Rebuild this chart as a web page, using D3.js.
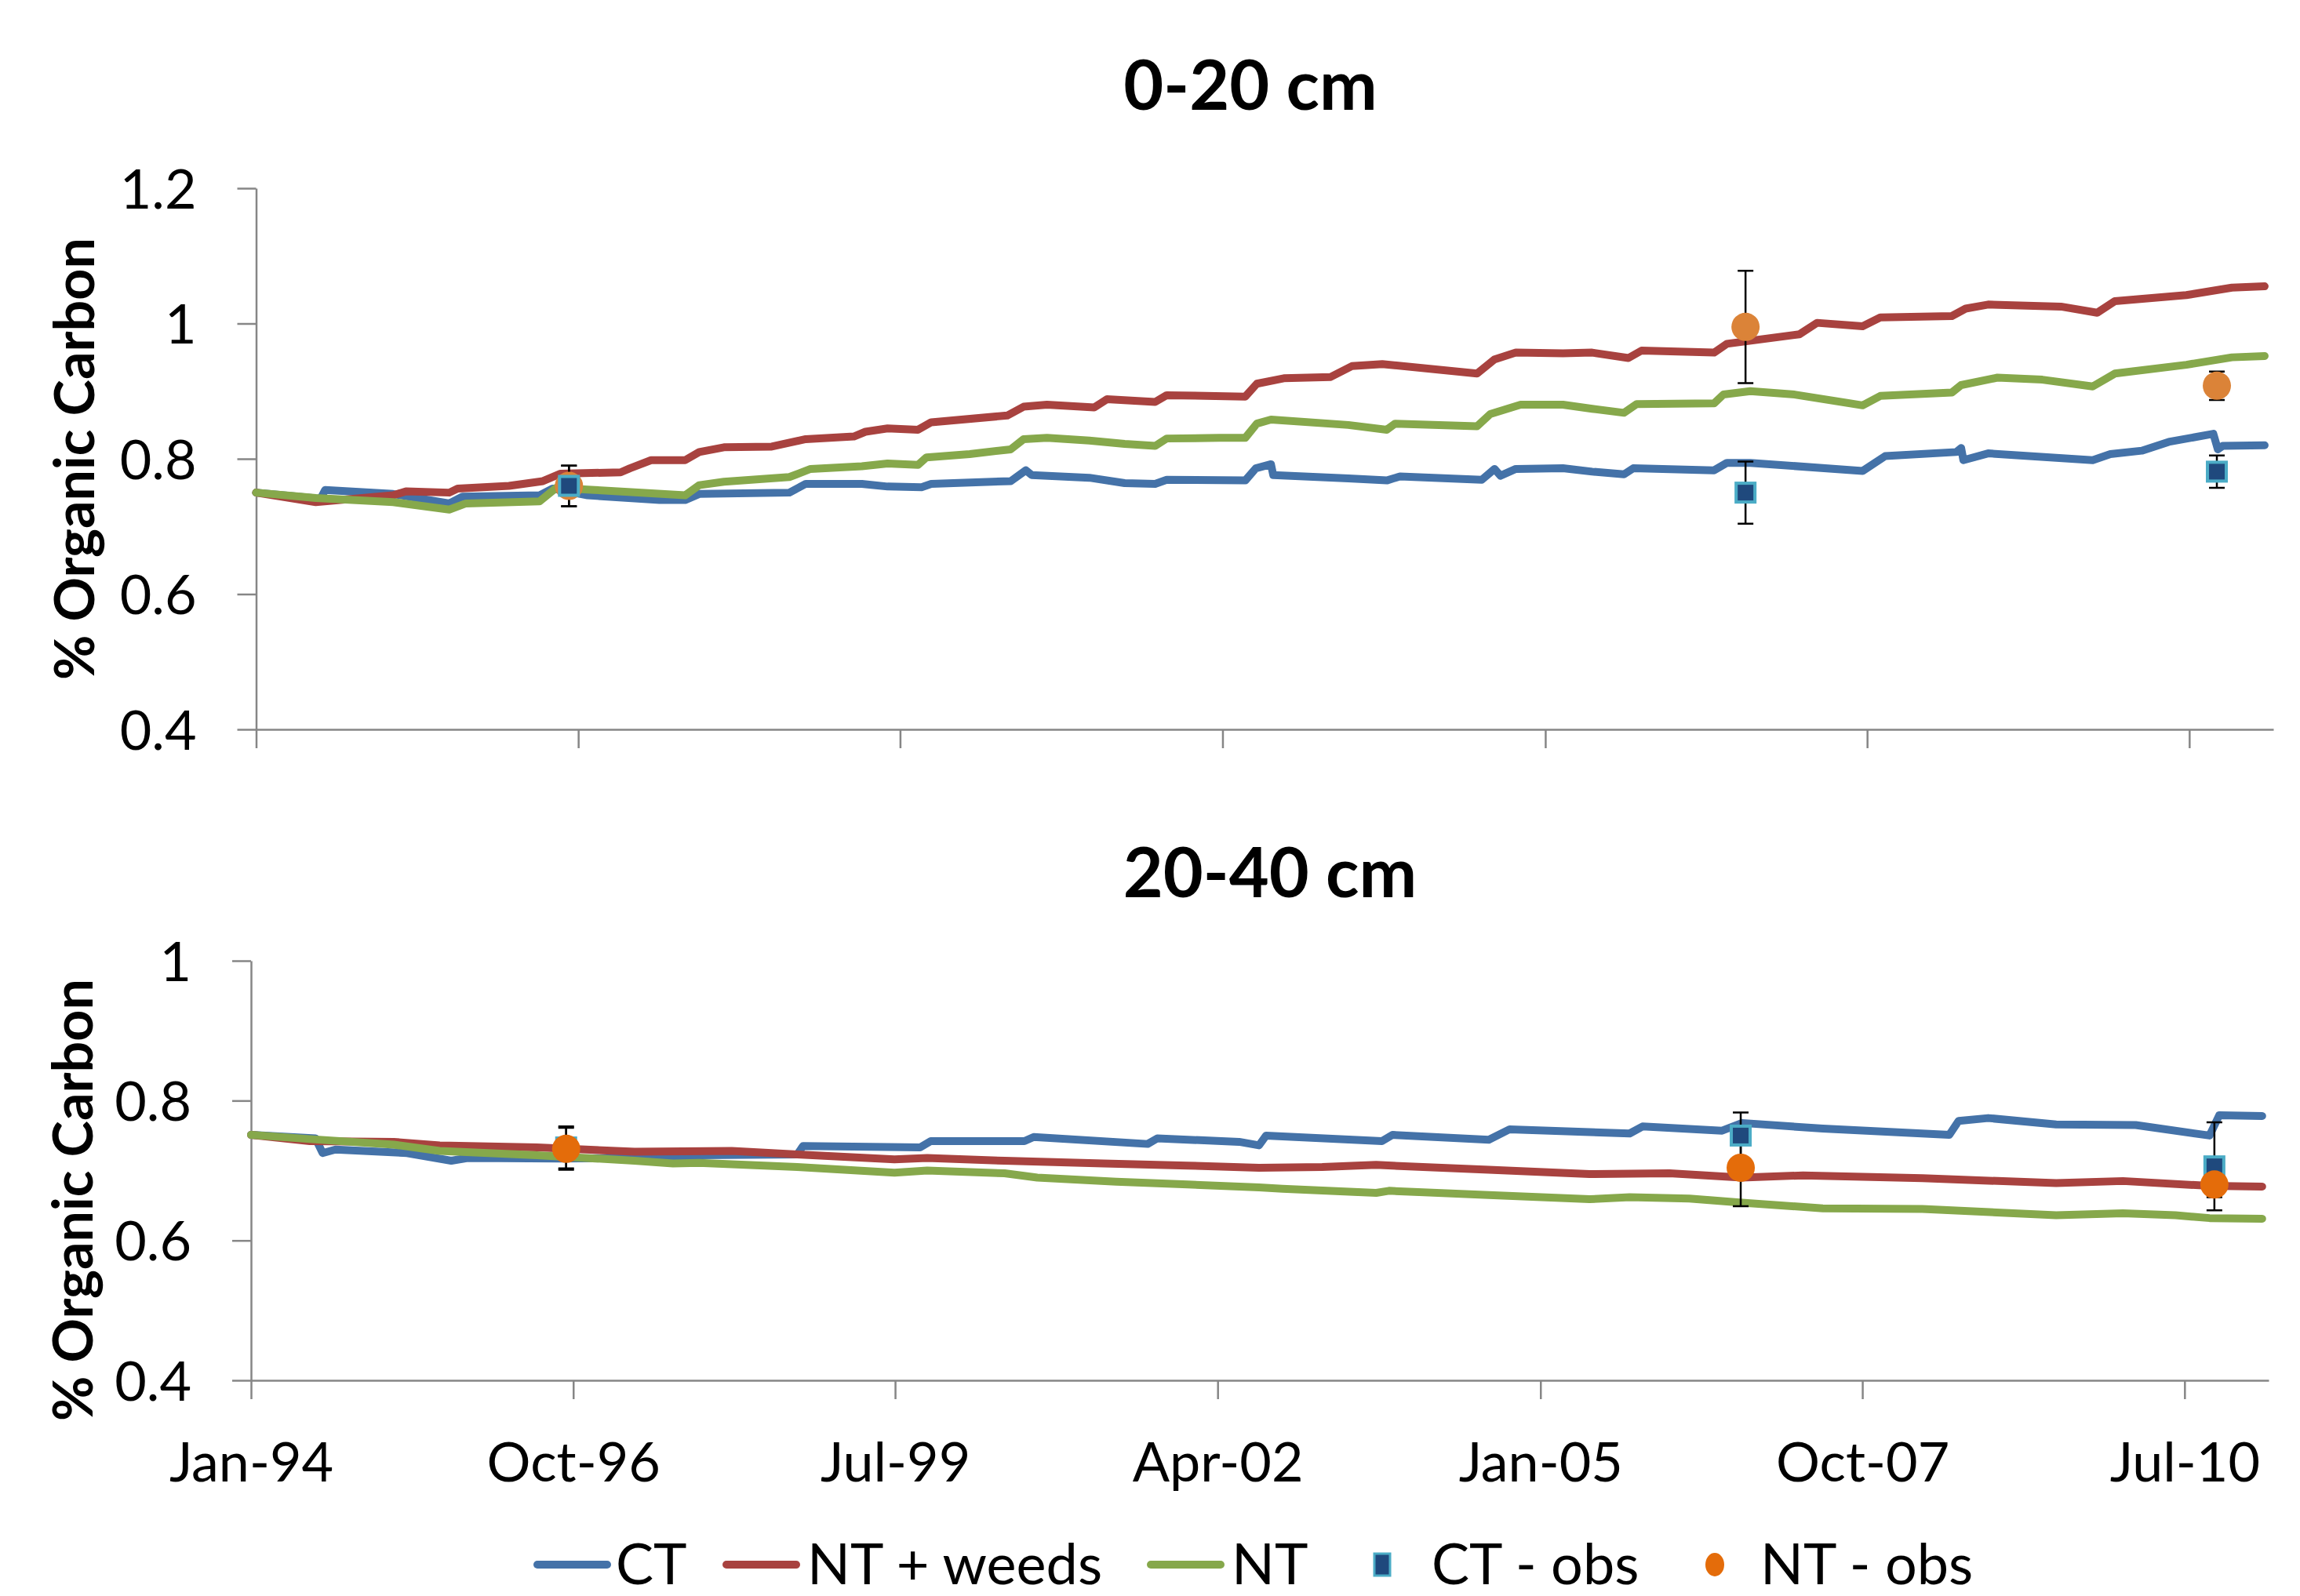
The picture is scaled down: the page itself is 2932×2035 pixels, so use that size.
<!DOCTYPE html>
<html>
<head>
<meta charset="utf-8">
<script src="https://cdn.jsdelivr.net/npm/d3@7"></script>
<style>
  html, body { margin: 0; padding: 0; background: #fff; }
  svg { display: block; font-family: Lato, "Open Sans", sans-serif; }
</style>
</head>
<body>
<svg id="chart" width="2932" height="2035"></svg>
<script>
// ---- data (decimal year, % organic carbon) ----
const xTickLabels = ["Jan-94", "Oct-96", "Jul-99", "Apr-02", "Jan-05", "Oct-07", "Jul-10"];
const yTicksTop = [0.4, 0.6, 0.8, 1.0, 1.2];
const yTicksBottom = [0.4, 0.6, 0.8, 1.0];
const seriesNames = ["CT", "NT + weeds", "NT", "CT - obs", "NT - obs"];

// 0-20 cm
const ctTop = [
  [1994.00, 0.750], [1994.55, 0.741], [1994.59, 0.754], [1995.17, 0.748], [1995.65, 0.734],
  [1995.76, 0.744], [1996.42, 0.746], [1996.53, 0.756], [1996.83, 0.746], [1997.44, 0.739],
  [1997.66, 0.739], [1997.78, 0.748], [1998.55, 0.750], [1998.69, 0.763], [1999.17, 0.763],
  [1999.39, 0.759], [1999.68, 0.758], [1999.76, 0.763], [2000.44, 0.767], [2000.57, 0.783],
  [2000.62, 0.776], [2001.11, 0.772], [2001.41, 0.764], [2001.67, 0.763], [2001.77, 0.769],
  [2002.44, 0.768], [2002.53, 0.786], [2002.66, 0.792], [2002.68, 0.776], [2003.32, 0.771],
  [2003.65, 0.768], [2003.76, 0.774], [2004.46, 0.769], [2004.57, 0.785], [2004.62, 0.775],
  [2004.75, 0.785], [2005.15, 0.786], [2005.40, 0.781], [2005.67, 0.777], [2005.75, 0.786],
  [2006.44, 0.783], [2006.55, 0.794], [2006.75, 0.794], [2007.71, 0.782], [2007.90, 0.804],
  [2008.51, 0.810], [2008.55, 0.816], [2008.57, 0.798], [2008.78, 0.808], [2009.05, 0.805],
  [2009.67, 0.798], [2009.82, 0.807], [2010.09, 0.812], [2010.32, 0.825], [2010.70, 0.837],
  [2010.74, 0.814], [2010.78, 0.819], [2011.14, 0.820]
];
const ntWeedsTop = [
  [1994.00, 0.750], [1994.51, 0.736], [1995.17, 0.746], [1995.28, 0.752], [1995.65, 0.750],
  [1995.72, 0.756], [1996.16, 0.760], [1996.45, 0.767], [1996.60, 0.778], [1997.11, 0.780],
  [1997.19, 0.786], [1997.37, 0.798], [1997.66, 0.798], [1997.78, 0.810], [1997.99, 0.817],
  [1998.40, 0.818], [1998.69, 0.829], [1999.10, 0.833], [1999.20, 0.840], [1999.39, 0.845],
  [1999.65, 0.843], [1999.76, 0.854], [2000.41, 0.864], [2000.55, 0.877], [2000.75, 0.880],
  [2001.15, 0.876], [2001.26, 0.888], [2001.67, 0.884], [2001.77, 0.894], [2002.44, 0.892],
  [2002.54, 0.911], [2002.77, 0.919], [2003.17, 0.921], [2003.35, 0.937], [2003.61, 0.940],
  [2004.42, 0.926], [2004.57, 0.947], [2004.75, 0.957], [2005.15, 0.956], [2005.40, 0.957],
  [2005.71, 0.949], [2005.82, 0.960], [2006.44, 0.957], [2006.55, 0.970], [2007.17, 0.984],
  [2007.32, 1.001], [2007.71, 0.996], [2007.86, 1.009], [2008.47, 1.011], [2008.59, 1.022],
  [2008.78, 1.028], [2009.40, 1.025], [2009.71, 1.016], [2009.86, 1.033], [2010.47, 1.042],
  [2010.86, 1.053], [2011.14, 1.055]
];
const ntTop = [
  [1994.00, 0.750], [1994.51, 0.742], [1995.17, 0.736], [1995.65, 0.725], [1995.79, 0.734],
  [1996.42, 0.737], [1996.56, 0.757], [1996.89, 0.754], [1997.66, 0.746], [1997.78, 0.761],
  [1997.99, 0.766], [1998.55, 0.773], [1998.73, 0.785], [1999.17, 0.789], [1999.39, 0.793],
  [1999.65, 0.791], [1999.72, 0.802], [2000.09, 0.807], [2000.44, 0.814], [2000.55, 0.829],
  [2000.75, 0.831], [2001.11, 0.827], [2001.41, 0.822], [2001.67, 0.819], [2001.77, 0.830],
  [2002.22, 0.831], [2002.44, 0.831], [2002.54, 0.852], [2002.66, 0.858], [2003.32, 0.850],
  [2003.65, 0.843], [2003.72, 0.852], [2004.42, 0.848], [2004.53, 0.866], [2004.79, 0.880],
  [2005.15, 0.880], [2005.40, 0.874], [2005.67, 0.868], [2005.78, 0.881], [2006.44, 0.882],
  [2006.52, 0.895], [2006.75, 0.900], [2007.13, 0.895], [2007.71, 0.879], [2007.86, 0.893],
  [2008.47, 0.898], [2008.55, 0.909], [2008.86, 0.920], [2009.24, 0.917], [2009.67, 0.907],
  [2009.86, 0.926], [2010.47, 0.939], [2010.86, 0.950], [2011.14, 0.952]
];
// observed: [decimal year, mean, error]
const ctObsTop = [[1996.67, 0.760, 0.030], [2006.71, 0.750, 0.046], [2010.73, 0.781, 0.024]];
const ntObsTop = [[1996.67, 0.760, 0.030], [2006.71, 0.995, 0.083], [2010.73, 0.908, 0.021]];

// 20-40 cm
const ctBottom = [
  [1994.00, 0.751], [1994.55, 0.746], [1994.61, 0.725], [1994.72, 0.730], [1995.33, 0.725],
  [1995.71, 0.714], [1995.85, 0.718], [1996.64, 0.717], [1997.27, 0.718], [1997.66, 0.717],
  [1997.82, 0.722], [1998.66, 0.723], [1998.71, 0.735], [1999.71, 0.733], [1999.80, 0.742],
  [2000.60, 0.742], [2000.68, 0.748], [2001.65, 0.738], [2001.73, 0.746], [2002.43, 0.741],
  [2002.60, 0.736], [2002.66, 0.750], [2003.65, 0.742], [2003.74, 0.751], [2004.56, 0.744],
  [2004.74, 0.759], [2005.42, 0.755], [2005.76, 0.753], [2005.87, 0.763], [2006.55, 0.757],
  [2006.72, 0.768], [2007.41, 0.760], [2008.49, 0.751], [2008.57, 0.771], [2008.82, 0.775],
  [2009.40, 0.766], [2010.08, 0.765], [2010.71, 0.750], [2010.79, 0.779], [2011.16, 0.778]
];
const ntWeedsBottom = [
  [1994.00, 0.751], [1994.50, 0.742], [1995.22, 0.741], [1995.61, 0.736], [1996.44, 0.733],
  [1997.27, 0.727], [1998.10, 0.728], [1998.66, 0.723], [1999.49, 0.716], [1999.77, 0.718],
  [2000.43, 0.714], [2001.27, 0.710], [2001.99, 0.707], [2002.60, 0.704], [2003.14, 0.705],
  [2003.60, 0.708], [2004.56, 0.701], [2005.42, 0.695], [2006.10, 0.696], [2006.72, 0.690],
  [2007.24, 0.693], [2008.26, 0.689], [2009.40, 0.682], [2009.97, 0.685], [2010.71, 0.678],
  [2011.16, 0.677]
];
const ntBottom = [
  [1994.00, 0.751], [1994.50, 0.745], [1995.22, 0.737], [1995.61, 0.728], [1996.44, 0.722],
  [1997.27, 0.714], [1997.60, 0.710], [1997.82, 0.711], [1998.66, 0.705], [1999.49, 0.697],
  [1999.77, 0.700], [2000.43, 0.696], [2000.71, 0.690], [2001.38, 0.684], [2001.99, 0.680],
  [2002.60, 0.676], [2002.80, 0.674], [2003.60, 0.668], [2003.71, 0.671], [2004.56, 0.665],
  [2005.42, 0.659], [2005.76, 0.662], [2006.27, 0.660], [2006.72, 0.654], [2007.41, 0.646],
  [2008.26, 0.645], [2009.40, 0.636], [2009.97, 0.639], [2010.42, 0.636], [2010.71, 0.632],
  [2011.16, 0.631]
];
const ctObsBottom = [[1996.69, 0.733, 0.030], [2006.71, 0.750, 0.033], [2010.75, 0.706, 0.063]];
const ntObsBottom = [[1996.69, 0.731, 0.030], [2006.71, 0.704, 0.055], [2010.75, 0.680, 0.018]];

// ---- layout / style ----
const graphConfig = {
  xStart: new Date(1994, 0, 1),
  xEnd: new Date(2011, 2, 20),
  axisColor: "#868686",
  axisWidth: 2.5,
  tickLen: 24,
  lineWidth: 10,
  ctColor: "#4472A8",
  ntWeedsColor: "#A8423F",
  ntColor: "#86A84B",
  sqFill: "#1F497D",
  sqStroke: "#4BACC6",
  sqSize: 24,
  circleR: 18,
  errCap: 10,
  tickFont: 70,
  titleFont: 88,
  yLabelFont: 70,
  legendFont: 72,
};

const panels = [
  {
    title: "0-20 cm", titleX: 1594, titleY: 140,
    left: 326.5, right: 2898, top: 240, bottom: 930,
    yDomain: [0.4, 1.2], yTicks: yTicksTop,
    yLabelX: 120, yLabelY: 585, showXLabels: false,
    ct: ctTop, ntWeeds: ntWeedsTop, nt: ntTop,
    ctObs: ctObsTop, ntObs: ntObsTop, obsOrder: ["nt", "ct"],
    circleFill: "#DB8338",
  },
  {
    title: "20-40 cm", titleX: 1619, titleY: 1144,
    left: 320, right: 2892, top: 1225, bottom: 1760,
    yDomain: [0.4, 1.0], yTicks: yTicksBottom,
    yLabelX: 118, yLabelY: 1530, showXLabels: true,
    ct: ctBottom, ntWeeds: ntWeedsBottom, nt: ntBottom,
    ctObs: ctObsBottom, ntObs: ntObsBottom, obsOrder: ["ct", "nt"],
    circleFill: "#E46C0A",
  },
];

const toDate = (yr) => {
  const whole = Math.floor(yr);
  return new Date(whole, 0, 1 + Math.round((yr - whole) * 365.25));
};
const xTickDates = xTickLabels.map((_, i) => new Date(1994, i * 33, 1));
const yFormat = (d) => d3.format(".1f")(d).replace(/\.0$/, "");

const svg = d3.select("#chart");

function drawPanel(p) {
  const cfg = graphConfig;
  const x = d3.scaleTime().domain([cfg.xStart, cfg.xEnd]).range([p.left, p.right]);
  const y = d3.scaleLinear().domain(p.yDomain).range([p.bottom, p.top]);
  const g = svg.append("g").attr("class", "panel");

  // title
  g.append("text")
    .attr("x", p.titleX)
    .attr("y", p.titleY)
    .attr("text-anchor", "middle")
    .attr("font-weight", "bold")
    .attr("font-size", cfg.titleFont)
    .text(p.title);

  // y axis label
  g.append("text")
    .attr("transform", `translate(${p.yLabelX},${p.yLabelY}) rotate(-90)`)
    .attr("text-anchor", "middle")
    .attr("font-weight", "bold")
    .attr("font-size", cfg.yLabelFont)
    .text("% Organic Carbon");

  // axes
  const yAxis = g.append("g")
    .attr("transform", `translate(${p.left},0)`)
    .call(d3.axisLeft(y).tickValues(p.yTicks).tickFormat(yFormat)
      .tickSize(cfg.tickLen).tickSizeOuter(0));
  yAxis.selectAll("text")
    .attr("x", -76)
    .attr("dy", "0.36em")
    .attr("font-size", cfg.tickFont)
    .attr("font-family", "Lato, sans-serif")
    .attr("fill", "#000");

  const xAxis = g.append("g")
    .attr("transform", `translate(0,${p.bottom})`)
    .call(d3.axisBottom(x).tickValues(xTickDates)
      .tickFormat((d, i) => (p.showXLabels ? xTickLabels[i] : ""))
      .tickSize(cfg.tickLen).tickSizeOuter(0));
  xAxis.selectAll("text")
    .attr("y", 129)
    .attr("dy", 0)
    .attr("font-size", cfg.tickFont)
    .attr("font-family", "Lato, sans-serif")
    .attr("fill", "#000");

  [yAxis, xAxis].forEach((ax) => {
    ax.selectAll("path, line")
      .attr("stroke", cfg.axisColor)
      .attr("stroke-width", cfg.axisWidth);
  });

  // model lines
  const line = d3.line()
    .x((d) => x(toDate(d[0])))
    .y((d) => y(d[1]));
  [
    [p.ct, cfg.ctColor],
    [p.ntWeeds, cfg.ntWeedsColor],
    [p.nt, cfg.ntColor],
  ].forEach(([data, color]) => {
    g.append("path")
      .datum(data)
      .attr("d", line)
      .attr("fill", "none")
      .attr("stroke", color)
      .attr("stroke-width", cfg.lineWidth)
      .attr("stroke-linejoin", "round")
      .attr("stroke-linecap", "round");
  });

  // error bars
  const errG = g.append("g").attr("class", "err");
  [...p.ctObs, ...p.ntObs].forEach((d) => {
    const cx = x(toDate(d[0]));
    const y1 = y(d[1] + d[2]);
    const y2 = y(d[1] - d[2]);
    errG.append("path")
      .attr("d", `M${cx},${y1}V${y2}M${cx - cfg.errCap},${y1}H${cx + cfg.errCap}M${cx - cfg.errCap},${y2}H${cx + cfg.errCap}`)
      .attr("stroke", "#000")
      .attr("stroke-width", 2.5)
      .attr("fill", "none");
  });

  // observed markers
  p.obsOrder.forEach((key) => {
    if (key === "ct") {
      g.append("g").selectAll("rect")
        .data(p.ctObs)
        .join("rect")
        .attr("x", (d) => x(toDate(d[0])) - cfg.sqSize / 2)
        .attr("y", (d) => y(d[1]) - cfg.sqSize / 2)
        .attr("width", cfg.sqSize)
        .attr("height", cfg.sqSize)
        .attr("fill", cfg.sqFill)
        .attr("stroke", cfg.sqStroke)
        .attr("stroke-width", 4);
    } else {
      g.append("g").selectAll("circle")
        .data(p.ntObs)
        .join("circle")
        .attr("cx", (d) => x(toDate(d[0])))
        .attr("cy", (d) => y(d[1]))
        .attr("r", cfg.circleR)
        .attr("fill", p.circleFill);
    }
  });
}

panels.forEach(drawPanel);

// legend
const legendY = 1995;
const legendItems = [
  { type: "line", color: graphConfig.ctColor, x: 685, tx: 785 },
  { type: "line", color: graphConfig.ntWeedsColor, x: 926, tx: 1029 },
  { type: "line", color: graphConfig.ntColor, x: 1467, tx: 1570 },
  { type: "square", x: 1762, tx: 1825 },
  { type: "circle", x: 2186, tx: 2244 },
];
const legend = svg.append("g").attr("class", "legend");
legendItems.forEach((it, i) => {
  if (it.type === "line") {
    legend.append("line")
      .attr("x1", it.x).attr("x2", it.x + 89)
      .attr("y1", legendY).attr("y2", legendY)
      .attr("stroke", it.color)
      .attr("stroke-width", graphConfig.lineWidth)
      .attr("stroke-linecap", "round");
  } else if (it.type === "square") {
    legend.append("rect")
      .attr("x", it.x - 10).attr("y", legendY - 14)
      .attr("width", 20).attr("height", 28)
      .attr("fill", graphConfig.sqFill)
      .attr("stroke", graphConfig.sqStroke)
      .attr("stroke-width", 3);
  } else {
    legend.append("ellipse")
      .attr("cx", it.x).attr("cy", legendY)
      .attr("rx", 12).attr("ry", 15)
      .attr("fill", "#E46C0A");
  }
  legend.append("text")
    .attr("x", it.tx)
    .attr("y", legendY + 25)
    .attr("font-size", graphConfig.legendFont)
    .text(seriesNames[i]);
});
</script>
</body>
</html>
